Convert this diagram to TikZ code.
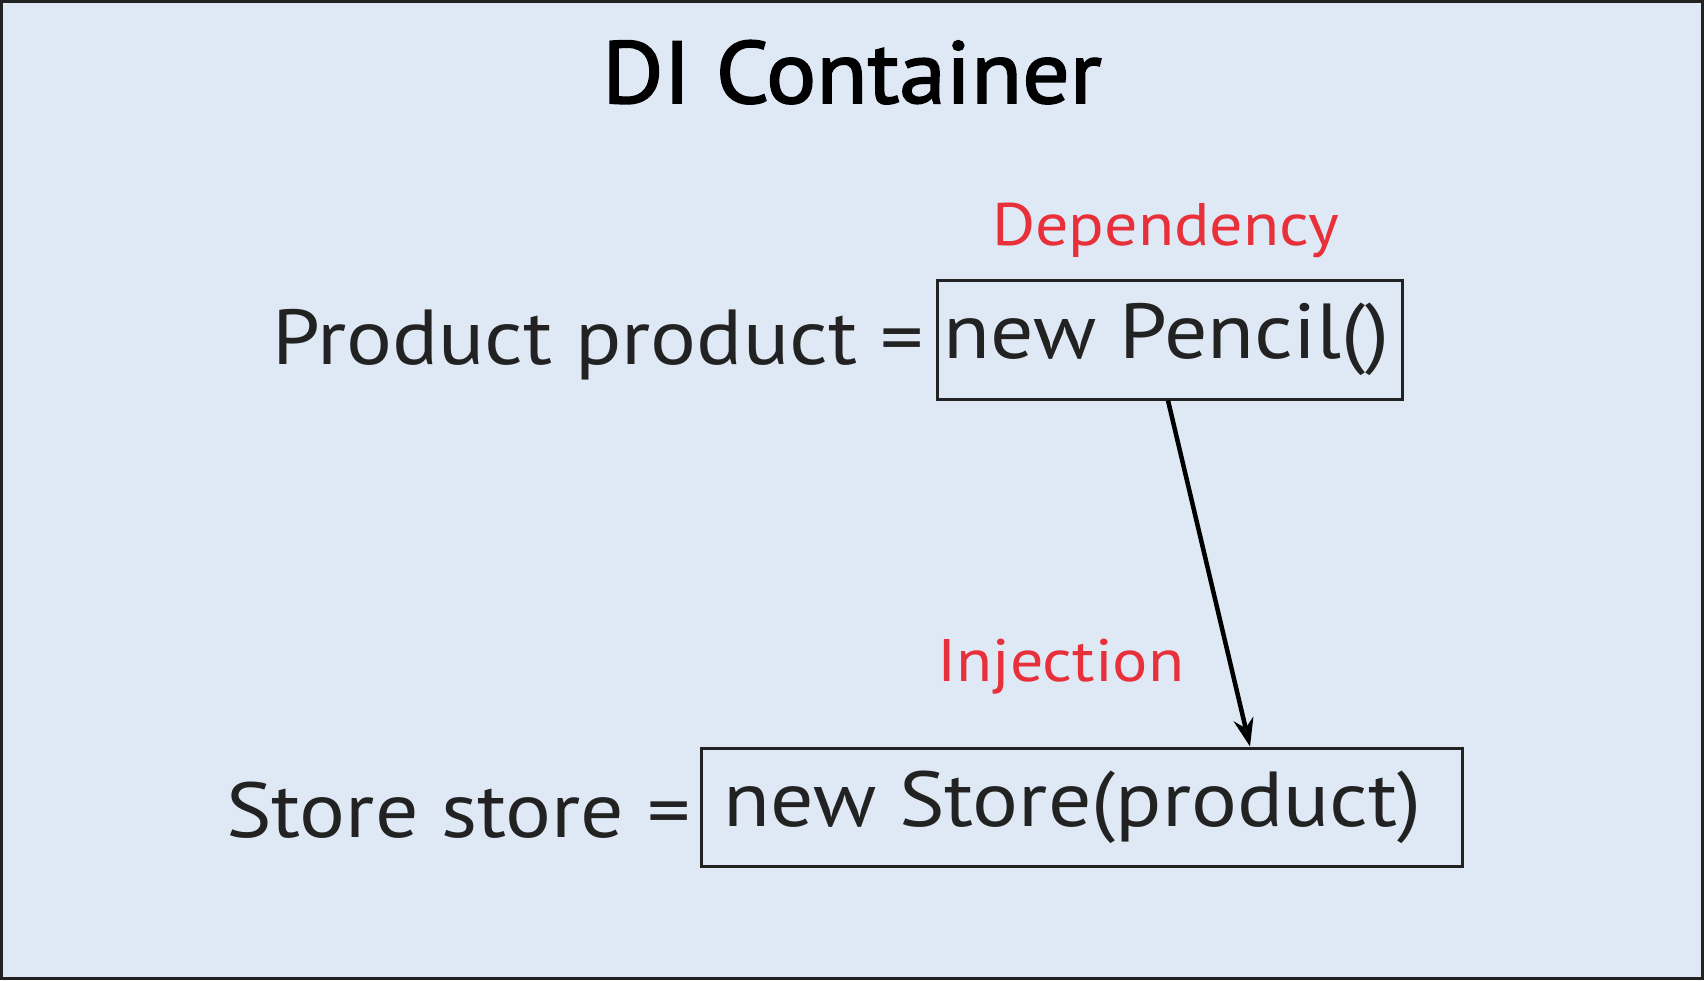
\documentclass[tikz,border=0pt]{standalone}
\usepackage{fontspec}
\setmainfont{PT Sans}
\newfontfamily\bodyfont[FakeStretch=1.1]{PT Sans}
\newfontfamily\titlefont[FakeStretch=1.065,FakeBold=2]{PT Sans}
\usetikzlibrary{arrows.meta}
\definecolor{bgblue}{HTML}{DFE9F5}
\definecolor{txt}{HTML}{222222}
\definecolor{lblred}{HTML}{E8303A}
\tikzset{
  code/.style={font=\bodyfont\fontsize{78}{90}\selectfont, text=txt, inner sep=0pt},
  codebox/.style={code, draw=txt, line width=3pt},
  redlabel/.style={font=\bodyfont\fontsize{60}{70}\selectfont, text=lblred, inner sep=0pt},
  link/.style={line width=4.5pt, draw=black, -{Stealth[length=28pt,width=20pt]}}
}
\begin{document}
\begin{tikzpicture}[x=1pt,y=-1pt]
  \path[fill=bgblue, draw=txt, line width=3pt] (1.5,1.5) rectangle (1702.5,978.5);
  \useasboundingbox (0,0) rectangle (1704,980);
  \node[font=\titlefont\fontsize{88}{100}\selectfont, text=black, inner sep=0pt, anchor=base] (title) at (852,103) {DI Container};
  \node[redlabel, anchor=base west] (dep) at (992,245) {Dependency};
  \node[code, anchor=base west] (prod) at (272,364) {Product product =};
  \node[codebox, minimum width=465pt, minimum height=119pt, anchor=center] (pencil) at (1169.5,339.5) {new Pencil()\hspace*{6pt}};
  \node[redlabel, anchor=base west] (inj) at (937,681) {Injection};
  \node[code, anchor=base west] (store) at (226,837) {Store store =};
  \node[codebox, minimum width=761pt, minimum height=118pt, anchor=center] (newstore) at (1081.5,807) {new Store(product)\hspace*{18pt}};
  \draw[link] ([xshift=-1.5pt]pencil.south) -- ([xshift=168.5pt]newstore.north);
\end{tikzpicture}
\end{document}
